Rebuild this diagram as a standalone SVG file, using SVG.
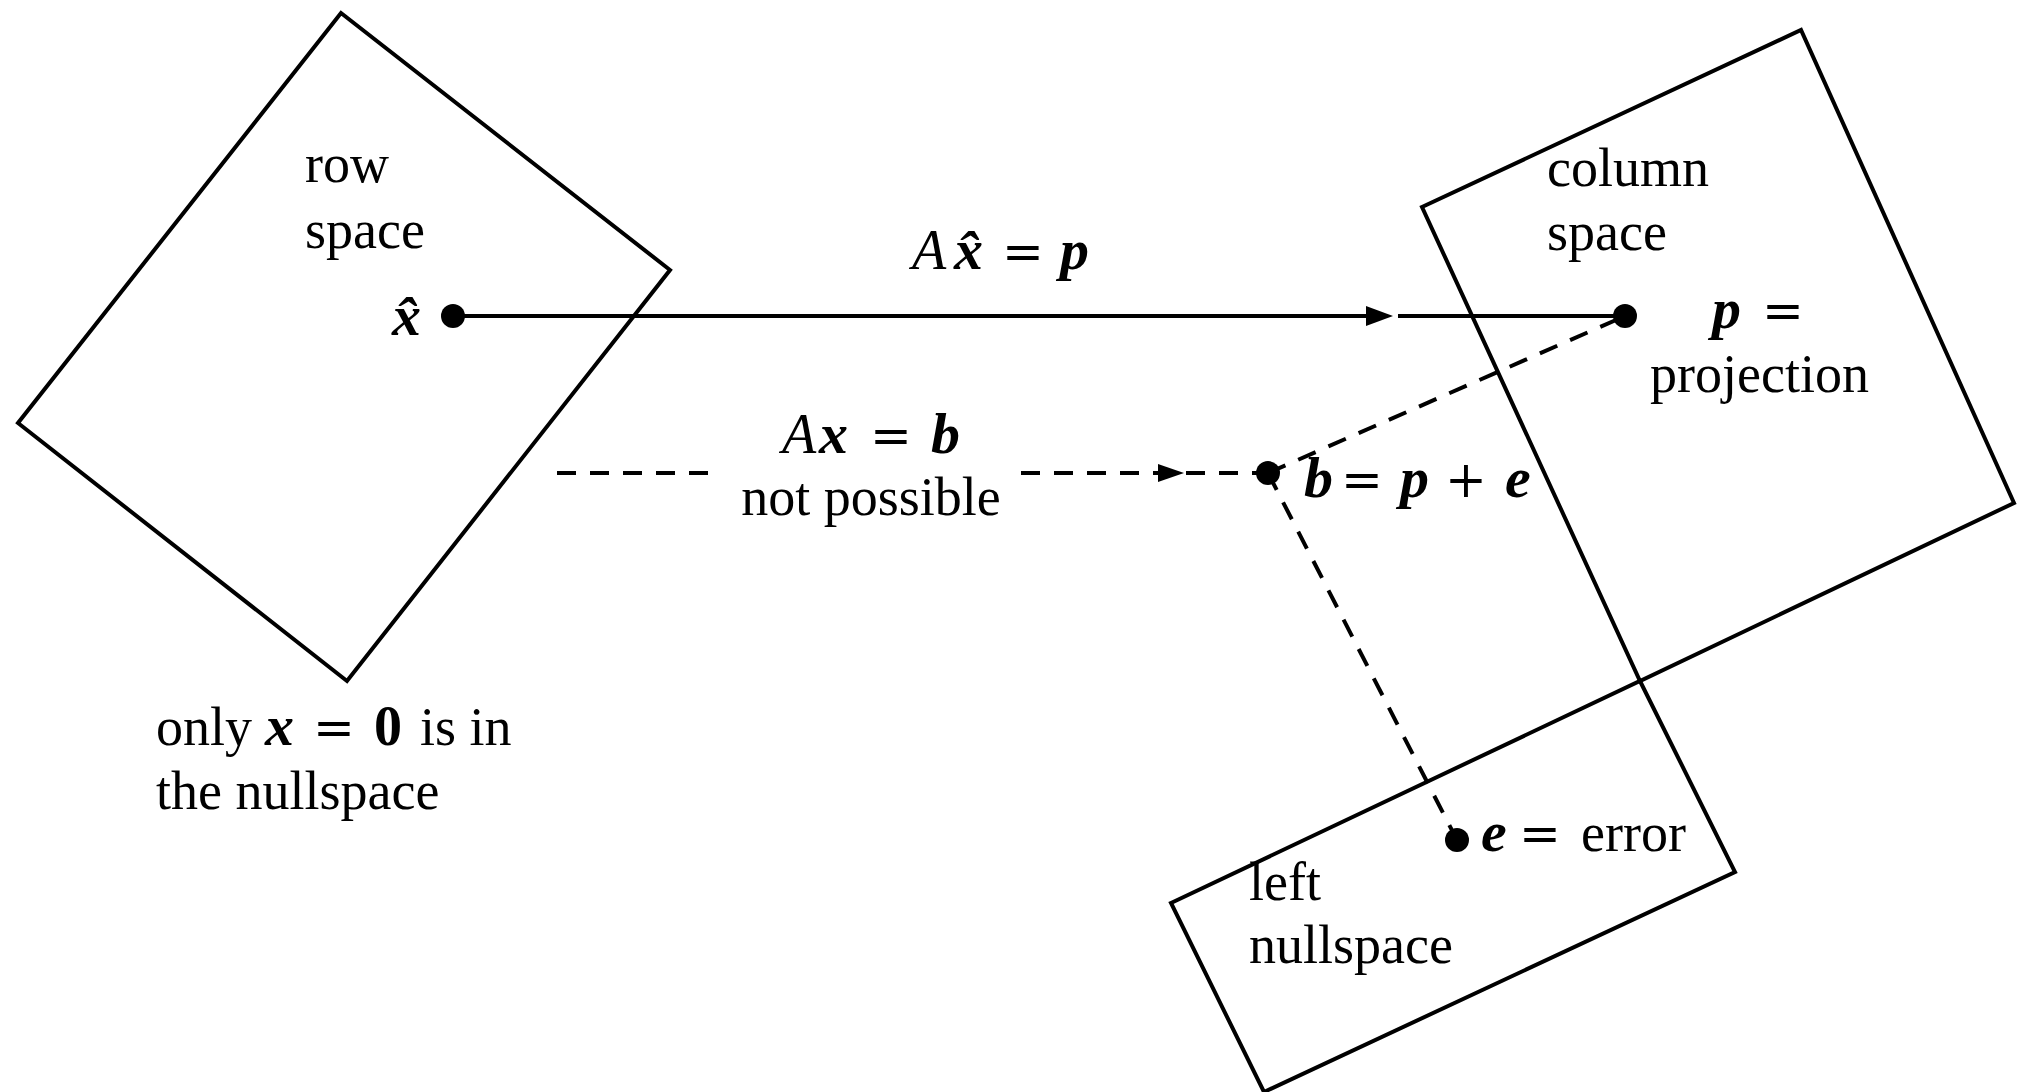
<svg xmlns="http://www.w3.org/2000/svg" width="2017" height="1092" viewBox="0 0 2017 1092">
<style>
.shape{fill:none;stroke:#000;stroke-width:4;stroke-linejoin:miter}
.line{fill:none;stroke:#000;stroke-width:4}
.dash{fill:none;stroke:#000;stroke-width:4;stroke-dasharray:19 14}
.dot{fill:#000}
.head{fill:#000;stroke:none}
text{font-family:"Liberation Serif","Times New Roman",serif;font-size:54px;fill:#000}
.mi{font-style:italic;font-size:56px}
.mb{font-style:italic;font-weight:bold;font-size:58px}
.bd{font-weight:bold;font-size:56px}
.op{font-family:"DejaVu Serif",serif;font-size:50px}
</style>
<rect width="2017" height="1092" fill="#fff"/>
<g id="connectors">
  <line class="line" x1="453" y1="316" x2="1370" y2="316"/>
  <polygon class="head" points="1366,306 1393,316 1366,326"/>
  <line class="line" x1="1398" y1="316" x2="1625" y2="316"/>
  <line class="dash" x1="557" y1="473" x2="722" y2="473"/>
  <line class="dash" x1="1021" y1="473" x2="1268" y2="473"/>
  <polygon class="head" points="1158,464 1184,473 1158,482"/>
  <line class="dash" x1="1268" y1="473" x2="1625" y2="316"/>
  <line class="dash" x1="1268" y1="473" x2="1457" y2="840"/>
</g>
<g id="row-space">
  <polygon class="shape" points="341,13 670,270 347,681 18,423"/>
  <text x="305" y="182">row</text>
  <text x="305" y="248">space</text>
</g>
<g id="column-space">
  <polygon class="shape" points="1422,207 1801,30 2014,503 1640,681"/>
  <text x="1547" y="186">column</text>
  <text x="1547" y="250">space</text>
</g>
<g id="left-nullspace">
  <polygon class="shape" points="1171,903 1640,681 1735,872 1264,1092"/>
  <text x="1249" y="900">left</text>
  <text x="1249" y="963">nullspace</text>
</g>
<g id="point-xhat">
  <circle class="dot" cx="453" cy="316" r="12"/>
  <text class="mb" x="392" y="335">x&#x302;</text>
</g>
<g id="point-p">
  <circle class="dot" cx="1625" cy="316" r="12"/>
  <text class="mb" x="1712" y="328">p</text>
  <text class="op" x="1762" y="328">=</text>
  <text x="1650" y="392">projection</text>
</g>
<g id="point-b">
  <circle class="dot" cx="1268" cy="473" r="12"/>
  <text class="mb" x="1304" y="497">b</text>
  <text class="op" x="1341" y="497">=</text>
  <text class="mb" x="1400" y="497">p</text>
  <text class="op" x="1445" y="497">+</text>
  <text class="mb" x="1505" y="497">e</text>
</g>
<g id="point-e">
  <circle class="dot" cx="1457" cy="840" r="12"/>
  <text class="mb" x="1481" y="851">e</text>
  <text class="op" x="1519" y="851">=</text>
  <text x="1581" y="851">error</text>
</g>
<g id="label-axhat">
  <text class="mi" x="912" y="269">A</text>
  <text class="mb" x="954" y="269">x&#x302;</text>
  <text class="op" x="1002" y="269">=</text>
  <text class="mb" x="1060" y="269">p</text>
</g>
<g id="label-axb">
  <text class="mi" x="782" y="453">A</text>
  <text class="mb" x="819" y="453">x</text>
  <text class="op" x="870" y="453">=</text>
  <text class="mb" x="931" y="453">b</text>
  <text x="871" y="515" text-anchor="middle">not possible</text>
</g>
<g id="label-nullspace">
  <text x="156" y="745">only</text>
  <text class="mb" x="265" y="745">x</text>
  <text class="op" x="313" y="745">=</text>
  <text class="bd" x="374" y="745">0</text>
  <text x="420" y="745">is in</text>
  <text x="156" y="809">the nullspace</text>
</g>
</svg>
